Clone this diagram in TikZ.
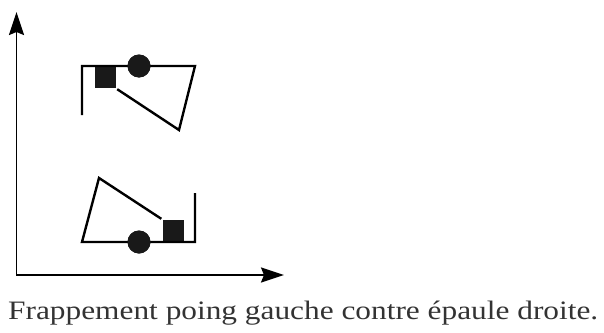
\documentclass[tikz,border=0pt]{standalone}
\usepackage{fontspec}
\usepackage{graphicx}
\setmainfont{Liberation Serif}
\usetikzlibrary{arrows.meta}

\begin{document}
\begin{tikzpicture}[x=1pt, y=-1pt, line width=2.4pt,
	fist/.style={shape=rectangle, fill=black!90, minimum width=21pt, minimum height=22pt, inner sep=0pt},
	shoulder/.style={shape=circle, fill=black!90, minimum size=23pt, inner sep=0pt},
	axes/.style={line width=1.9pt, {Stealth[length=23pt, width=15pt, inset=3pt]}-{Stealth[length=23pt, width=15pt, inset=3pt]}}]
	\useasboundingbox (0, 0) rectangle (604, 332);
	% Axes:
	\coordinate (ytip) at (16.5, 12);
	\coordinate (xtip) at (284, 275);
	\draw[axes] (ytip) |- (xtip);
	% Upper pair (puncher on top):
	\node[fist] (fistup) at (105.5, 77){};
	\node[shoulder] (shoulderup) at (139, 66){};
	\coordinate (backup) at (82, 115);
	\coordinate (tipup) at (179, 130);
	\draw[line join=miter] (backup) -- (82, 66) -- (195, 66) -- (tipup) -- (fistup.south east);
	\node[shoulder] at (shoulderup){};
	% Lower pair:
	\node[fist] (fistdown) at (173, 231){};
	\node[shoulder] (shoulderdown) at (139, 242){};
	\coordinate (backdown) at (195, 193);
	\coordinate (tipdown) at (99, 178);
	\draw[line join=miter] (fistdown.north west) -- (tipdown) -- (82, 242) -- (195, 242) -- (backdown);
	\node[shoulder] at (shoulderdown){};
	% Caption:
	\node[anchor=base west, inner sep=0pt, font=\fontsize{26.6}{30}\selectfont, text=black!80] (caption) at (7, 319){\resizebox{590pt}{\height}{Frappement poing gauche contre épaule droite.}};
\end{tikzpicture}
\end{document}
